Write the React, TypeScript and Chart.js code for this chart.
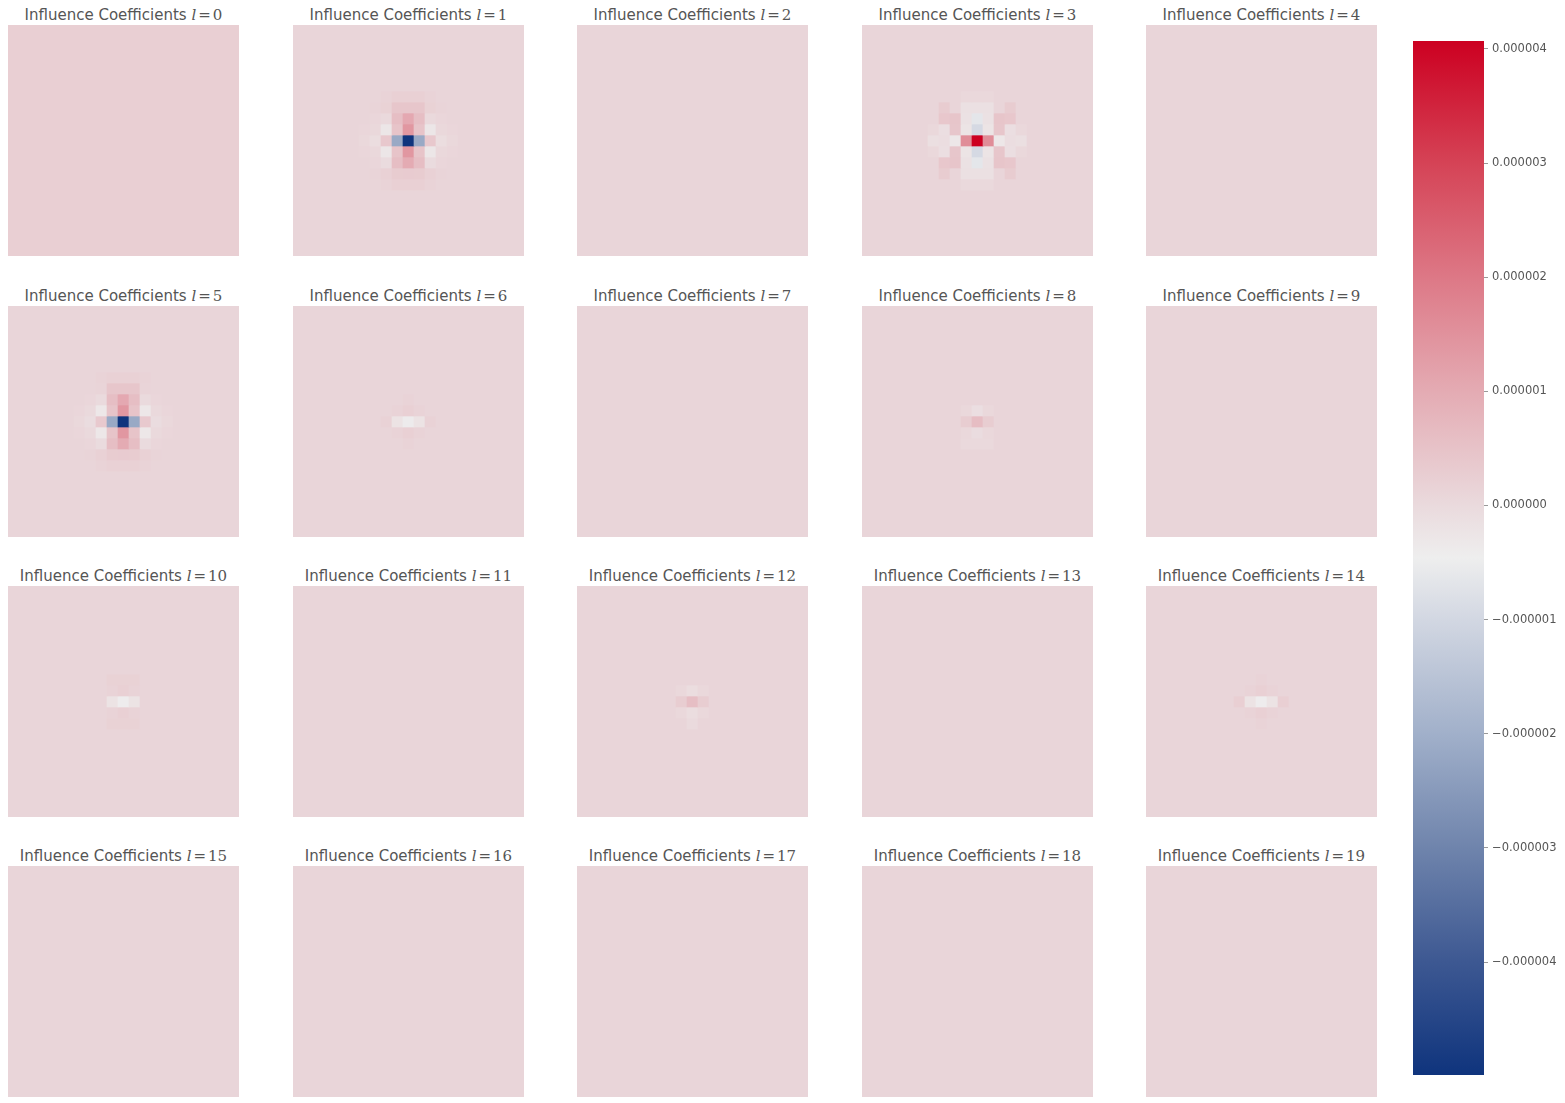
import React, { useEffect, useRef } from "react";
import { Chart, registerables } from "chart.js";

Chart.register(...registerables);

// ---------------- data (values in units of 1e-6) ----------------
const GRID_SIZE = 21;
const PATCH_ORIGIN = 6; // patches cover rows/cols 6..14
const UNIT = 1e-6;
const V_MIN = -4.99;
const V_MAX = 4.07;
const CBAR_TICKS = [-4, -3, -2, -1, 0, 1, 2, 3, 4];

const PANEL_LS = [0, 1, 2, 3, 4, 5, 6, 7, 8, 9, 10, 11, 12, 13, 14, 15, 16, 17, 18, 19];
const PANEL_BASE = [0.23, 0.1, 0.1, 0.1, 0.1, 0.1, 0.1, 0.1, 0.1, 0.1, 0.1, 0.1, 0.1, 0.1, 0.1, 0.1, 0.1, 0.1, 0.1, 0.1];

const CMAP_VALUES = [-4.99, -4, -3, -2, -1, -0.46, 0, 1, 2, 3, 4.07];
const CMAP_COLORS = ["#0f347d", "#3d5892", "#6f84ac", "#a1b0ca", "#d2d7e2", "#eeeeee", "#eadadd", "#e4abb3", "#dd7886", "#d54356", "#cc0021"];

const n = null;

const PATCH_L1 = [
  [n, n, 0.15, 0.21, 0.21, 0.21, 0.15, n, n],
  [n, 0.12, 0.18, 0.42, 0.42, 0.42, 0.18, 0.12, n],
  [n, 0.08, 0.02, 0.6, 1.05, 0.6, 0.02, 0.08, n],
  [0.08, 0.04, -0.28, 0.47, 1.39, 0.47, -0.28, 0.04, 0.08],
  [0.04, -0.06, 0.38, -2.16, -4.99, -2.16, 0.38, -0.06, 0.04],
  [0.08, 0.04, -0.28, 0.47, 1.39, 0.47, -0.28, 0.04, 0.08],
  [n, 0.08, -0.02, 0.6, 1.0, 0.6, -0.02, 0.08, n],
  [n, 0.12, 0.2, 0.3, 0.32, 0.3, 0.2, 0.12, n],
  [n, n, 0.15, 0.21, 0.21, 0.21, 0.15, n, n],
];

const PATCH_L3 = [
  [n, n, n, 0.05, 0.05, 0.05, n, n, n],
  [n, 0.3, 0.1, -0.14, -0.14, -0.14, 0.1, 0.3, n],
  [n, 0.4, 0.45, -0.16, -0.65, -0.16, 0.45, 0.4, n],
  [0.05, -0.1, 0.42, -0.22, -0.95, -0.22, 0.42, -0.1, 0.05],
  [-0.12, -0.08, -0.3, 1.59, 4.07, 1.59, -0.3, -0.08, -0.12],
  [0.05, -0.1, 0.42, -0.22, -0.95, -0.22, 0.42, -0.1, 0.05],
  [n, 0.4, 0.45, -0.16, -0.65, -0.16, 0.45, 0.4, n],
  [n, 0.3, 0.1, -0.14, -0.14, -0.14, 0.1, 0.3, n],
  [n, n, n, 0.02, 0.02, 0.02, n, n, n],
];

const PATCH_L5 = [
  [n, n, 0.14, 0.2, 0.2, 0.2, 0.14, n, n],
  [n, 0.1, 0.12, 0.42, 0.42, 0.42, 0.12, 0.1, n],
  [n, 0.08, 0.0, 0.6, 1.05, 0.6, 0.0, 0.08, n],
  [0.08, 0.03, -0.3, 0.47, 1.39, 0.47, -0.3, 0.03, 0.08],
  [0.05, -0.05, 0.36, -2.16, -4.99, -2.16, 0.36, -0.05, 0.05],
  [0.08, 0.03, -0.3, 0.47, 1.39, 0.47, -0.3, 0.03, 0.08],
  [n, 0.08, -0.02, 0.6, 1.0, 0.6, -0.02, 0.08, n],
  [n, 0.12, 0.2, 0.3, 0.32, 0.3, 0.2, 0.12, n],
  [n, n, 0.14, 0.2, 0.2, 0.2, 0.14, n, n],
];

const PATCH_L6 = [
  [n, n, n, n, n, n, n, n, n],
  [n, n, n, n, n, n, n, n, n],
  [n, n, n, n, 0.15, n, n, n, n],
  [n, n, n, 0.15, 0.22, 0.15, n, n, n],
  [n, n, 0.16, -0.2, -0.4, -0.2, 0.16, n, n],
  [n, n, n, 0.15, 0.22, 0.15, n, n, n],
  [n, n, n, n, 0.15, n, n, n, n],
  [n, n, n, n, n, n, n, n, n],
  [n, n, n, n, n, n, n, n, n],
];

const PATCH_L8 = [
  [n, n, n, n, n, n, n, n, n],
  [n, n, n, n, n, n, n, n, n],
  [n, n, n, n, n, n, n, n, n],
  [n, n, n, 0.05, -0.1, 0.05, n, n, n],
  [n, n, n, 0.28, 0.62, 0.28, n, n, n],
  [n, n, n, 0.05, -0.05, 0.05, n, n, n],
  [n, n, n, 0.02, 0.02, 0.02, n, n, n],
  [n, n, n, n, n, n, n, n, n],
  [n, n, n, n, n, n, n, n, n],
];

const PATCH_L10 = [
  [n, n, n, n, n, n, n, n, n],
  [n, n, n, n, n, n, n, n, n],
  [n, n, n, 0.18, 0.18, 0.18, n, n, n],
  [n, n, n, 0.15, 0.22, 0.15, n, n, n],
  [n, n, n, -0.2, -0.42, -0.2, n, n, n],
  [n, n, n, 0.15, 0.22, 0.15, n, n, n],
  [n, n, n, 0.18, 0.18, 0.18, n, n, n],
  [n, n, n, n, n, n, n, n, n],
  [n, n, n, n, n, n, n, n, n],
];

const PATCH_L12 = [
  [n, n, n, n, n, n, n, n, n],
  [n, n, n, n, n, n, n, n, n],
  [n, n, n, n, n, n, n, n, n],
  [n, n, n, 0.05, -0.06, 0.05, n, n, n],
  [n, n, n, 0.28, 0.6, 0.28, n, n, n],
  [n, n, n, 0.05, -0.06, 0.05, n, n, n],
  [n, n, n, n, 0.0, n, n, n, n],
  [n, n, n, n, n, n, n, n, n],
  [n, n, n, n, n, n, n, n, n],
];

const PATCH_L14 = [
  [n, n, n, n, n, n, n, n, n],
  [n, n, n, n, n, n, n, n, n],
  [n, n, n, n, 0.15, n, n, n, n],
  [n, n, n, 0.15, 0.22, 0.15, n, n, n],
  [n, n, 0.23, -0.2, -0.42, -0.2, 0.23, n, n],
  [n, n, n, 0.15, 0.22, 0.15, n, n, n],
  [n, n, n, n, 0.15, n, n, n, n],
  [n, n, n, n, n, n, n, n, n],
  [n, n, n, n, n, n, n, n, n],
];

const PATCHES: Record<number, (number | null)[][]> = {
  1: PATCH_L1,
  3: PATCH_L3,
  5: PATCH_L5,
  6: PATCH_L6,
  8: PATCH_L8,
  10: PATCH_L10,
  12: PATCH_L12,
  14: PATCH_L14,
};

// ---------------- layout ----------------
const COL_LEFTS = [8, 293, 577, 862, 1146];
const ROW_TOPS = [25, 306, 586, 866];
const PANEL_PX = 231;

// ---------------- helpers ----------------
function hexToRgb(h: string) {
  const v = parseInt(h.slice(1), 16);
  return [(v >> 16) & 255, (v >> 8) & 255, v & 255];
}

function colorFor(v: number): string {
  const x = Math.max(V_MIN, Math.min(V_MAX, v));
  let i = 0;
  while (i < CMAP_VALUES.length - 2 && x > CMAP_VALUES[i + 1]) i++;
  const a = CMAP_VALUES[i];
  const b = CMAP_VALUES[i + 1];
  const t = (x - a) / (b - a);
  const ca = hexToRgb(CMAP_COLORS[i]);
  const cb = hexToRgb(CMAP_COLORS[i + 1]);
  const c = ca.map((q, k) => Math.round(q + (cb[k] - q) * t));
  return `rgb(${c[0]},${c[1]},${c[2]})`;
}

function buildGrid(l: number): number[][] {
  const base = PANEL_BASE[l];
  const patch = PATCHES[l];
  const grid: number[][] = [];
  for (let r = 0; r < GRID_SIZE; r++) {
    const row: number[] = [];
    for (let c = 0; c < GRID_SIZE; c++) {
      let v = base;
      if (patch) {
        const pr = r - PATCH_ORIGIN;
        const pc = c - PATCH_ORIGIN;
        if (pr >= 0 && pr < patch.length && pc >= 0 && pc < patch[pr].length) {
          const pv = patch[pr][pc];
          if (pv !== null) v = pv;
        }
      }
      row.push(v);
    }
    grid.push(row);
  }
  return grid;
}

function fmtTick(v: number): string {
  const s = Math.abs(v * UNIT).toFixed(6);
  return v < -1e-9 ? "\u2212" + s : s;
}

// ---------------- components ----------------
function HeatPanel({ l, left, top }: { l: number; left: number; top: number }) {
  const ref = useRef<HTMLCanvasElement | null>(null);
  useEffect(() => {
    if (!ref.current) return;
    const grid = buildGrid(l);
    const labels = Array.from({ length: GRID_SIZE }, (_, i) => String(i));
    const datasets = grid.map((row, r) => ({
      label: `row ${r}`,
      data: row.map(() => [r, r + 1]),
      backgroundColor: row.map((v) => colorFor(v)),
      borderWidth: 0,
      barPercentage: 1,
      categoryPercentage: 1,
      grouped: false,
    }));
    const chart = new Chart(ref.current, {
      type: "bar",
      data: { labels, datasets: datasets as any },
      options: {
        animation: false,
        responsive: false,
        maintainAspectRatio: false,
        layout: { padding: 0 },
        scales: {
          x: { type: "category", display: false },
          y: { type: "linear", min: 0, max: GRID_SIZE, reverse: true, display: false },
        },
        plugins: { legend: { display: false }, tooltip: { enabled: false }, title: { display: false } },
      },
    });
    return () => chart.destroy();
  }, [l]);
  return (
    <>
      <div
        style={{
          position: "absolute",
          left: left - 40,
          top: top - 19,
          width: PANEL_PX + 80,
          textAlign: "center",
          fontFamily: '"DejaVu Sans", sans-serif',
          fontSize: 15,
          lineHeight: "18px",
          color: "#555555",
          whiteSpace: "nowrap",
        }}
      >
        Influence Coefficients{" "}
        <span style={{ fontFamily: '"DejaVu Serif", serif', fontSize: 15 }}>
          <i>l</i>
          <span style={{ margin: "0 2px" }}>=</span>
          {l}
        </span>
      </div>
      <canvas
        ref={ref}
        width={PANEL_PX}
        height={PANEL_PX}
        style={{ position: "absolute", left, top, width: PANEL_PX, height: PANEL_PX }}
      />
    </>
  );
}

function ColorBar() {
  const ref = useRef<HTMLCanvasElement | null>(null);
  useEffect(() => {
    if (!ref.current) return;
    const chart = new Chart(ref.current, {
      type: "bar",
      data: {
        labels: ["colorbar"],
        datasets: [
          {
            label: "colorbar",
            data: [[V_MIN, V_MAX]] as any,
            backgroundColor: (ctx: any) => {
              const ch = ctx.chart;
              if (!ch.chartArea) return CMAP_COLORS[0];
              const ys = ch.scales.y;
              const y0 = ys.getPixelForValue(V_MIN);
              const y1 = ys.getPixelForValue(V_MAX);
              const g = ch.ctx.createLinearGradient(0, y0, 0, y1);
              CMAP_VALUES.forEach((v, i) => g.addColorStop((v - V_MIN) / (V_MAX - V_MIN), CMAP_COLORS[i]));
              return g;
            },
            borderWidth: 0,
            barPercentage: 1,
            categoryPercentage: 1,
          },
        ],
      },
      options: {
        animation: false,
        responsive: false,
        maintainAspectRatio: false,
        layout: { padding: { top: 10, bottom: 10, left: 0, right: 0 } },
        scales: {
          x: { type: "category", display: false },
          y: {
            type: "linear",
            position: "right",
            min: V_MIN,
            max: V_MAX,
            afterFit: (s: any) => {
              s.width = 81;
            },
            afterBuildTicks: (s: any) => {
              s.ticks = CBAR_TICKS.map((v) => ({ value: v }));
            },
            ticks: {
              callback: (v: any) => fmtTick(Number(v)),
              color: "#555555",
              font: { family: '"DejaVu Sans", sans-serif', size: 11.5 },
              padding: 4,
            },
            grid: {
              drawOnChartArea: false,
              drawTicks: true,
              tickLength: 4,
              tickColor: "#999999",
              lineWidth: 1,
            },
            border: { display: false },
          },
        },
        plugins: { legend: { display: false }, tooltip: { enabled: false }, title: { display: false } },
      },
    });
    return () => chart.destroy();
  }, []);
  return (
    <canvas
      ref={ref}
      width={152}
      height={1056}
      style={{ position: "absolute", left: 1413, top: 30, width: 152, height: 1056 }}
    />
  );
}

export default function App() {
  return (
    <div
      style={{
        position: "absolute",
        left: 0,
        top: 0,
        width: 1565,
        height: 1103,
        background: "#ffffff",
        overflow: "hidden",
      }}
    >
      {PANEL_LS.map((l) => (
        <HeatPanel key={l} l={l} left={COL_LEFTS[l % 5]} top={ROW_TOPS[Math.floor(l / 5)]} />
      ))}
      <ColorBar />
    </div>
  );
}
